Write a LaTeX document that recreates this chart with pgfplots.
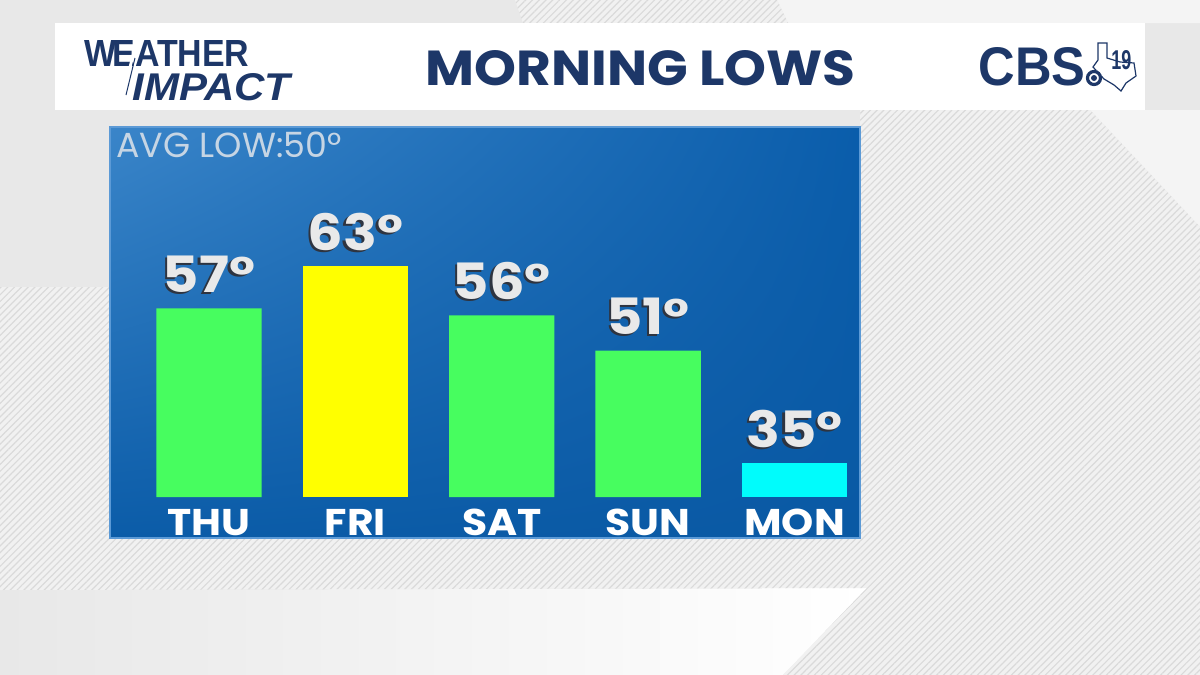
\documentclass[border=0pt]{standalone}
\usepackage{pgfplots}
\pgfplotsset{compat=1.18}
\usepackage{pgfplotstable}
\usepackage{fontspec}
\setmainfont{Poppins}
\newfontfamily\lib{Liberation Sans}
\usetikzlibrary{patterns.meta,shadings}
\definecolor{bg}{HTML}{E8E8E8}
\definecolor{bglight}{HTML}{F4F4F4}
\definecolor{stripe}{HTML}{DADADA}
\definecolor{stripebg}{HTML}{F1F1F1}
\definecolor{navy}{HTML}{1D3768}
\definecolor{barg}{HTML}{47FD5F}
\definecolor{bary}{HTML}{FFFF00}
\definecolor{barc}{HTML}{00FCFC}
\definecolor{lbl}{HTML}{E9E9E9}
\definecolor{shad}{HTML}{2E3440}
\definecolor{avg}{HTML}{C6D5E4}
\definecolor{pul}{HTML}{3A85C9}
\definecolor{pur}{HTML}{0A5DAB}
\definecolor{pll}{HTML}{0B5CA8}
\definecolor{plr}{HTML}{0A59A4}
\definecolor{pborder}{HTML}{5C9AD6}

\pgfplotstableread{
x v
0 57
1 63
2 56
3 51
4 35
}\lows

\newcommand{\dl}[1]{\scalebox{1.1}[1]{#1}}

\begin{document}
\begin{tikzpicture}[x=0.5pt,y=-0.5pt]
% background
\fill[bg] (0,0) rectangle (1200,675);
\shade[left color=bg, right color=white] (0,590) -- (867,588) -- (783,675) -- (0,675) -- cycle;
\fill[bglight] (777,0) -- (1200,0) -- (1200,23) -- (788,23) -- cycle;
\fill[bglight] (1090,110) -- (1200,110) -- (1200,227) -- cycle;
% striped regions
\fill[stripebg] (515,0) -- (777,0) -- (788,23) -- (523,23) -- cycle;
\fill[pattern={Lines[angle=45,distance=2.4pt,line width=0.6pt]}, pattern color=stripe]
  (515,0) -- (777,0) -- (788,23) -- (523,23) -- cycle;
\fill[stripebg] (0,287) -- (860,287) -- (860,110) -- (1090,110) -- (1200,227) -- (1200,675) -- (783,675) -- (867,588) -- (0,590) -- cycle;
\fill[pattern={Lines[angle=45,distance=2.4pt,line width=0.6pt]}, pattern color=stripe]
  (0,287) -- (860,287) -- (860,110) -- (1090,110) -- (1200,227) -- (1200,675) -- (783,675) -- (867,588) -- (0,590) -- cycle;
% header
\fill[white] (55,23) rectangle (1145,110);
\node[anchor=base west, inner sep=0pt, text=navy] at (84,66) {\resizebox{82.5pt}{13pt}{\lib\bfseries W\kern-0.12em EATHER}};
\node[anchor=base west, inner sep=0pt, text=navy] at (132,100) {\resizebox{79pt}{13.5pt}{\lib\bfseries\itshape IMPACT}};
\draw[white, line width=1.4pt] (139,33) -- (121,101);
\draw[navy, line width=0.5pt] (135,58) -- (126,95);
\node[anchor=base west, inner sep=0pt, text=navy] at (425,85) {\resizebox{215pt}{17.5pt}{\bfseries MORNING LOWS}};
\node[anchor=base west, inner sep=0pt, text=navy] at (978,85) {\resizebox{53.5pt}{19pt}{\lib\bfseries CBS}};
\draw[navy, line width=0.6pt] (1098,43) -- (1107,43) -- (1107,58) -- (1120,62) -- (1134,63) -- (1136,76) -- (1126,83) -- (1121,91) -- (1114,85) -- (1104,79) -- (1093,67) -- (1098,60) -- cycle;
\fill[white] (1094,78) circle (8);
\draw[navy, line width=1.6pt] (1094,78) circle (6.5);
\fill[navy] (1094,78) circle (3);
\node[anchor=base west, inner sep=0pt, text=navy] at (1111,69) {\resizebox{10pt}{9.5pt}{\lib\bfseries 19}};
% panel
\shade[upper left=pul, upper right=pur, lower left=pll, lower right=plr] (110,127) rectangle (860,538);
\draw[pborder, line width=0.6pt] (110,127) rectangle (860,538);
\node[anchor=base west, inner sep=0pt, text=avg, font=\fontsize{17.4}{17.4}\selectfont] at (116,157) {AVG LOW:50°};

\begin{axis}[
  at={(55pt,-248.5pt)}, anchor=south west,
  width=375pt, height=185pt, scale only axis,
  xmin=-0.676, xmax=4.447, ymin=30.2, ymax=82.76,
  ybar, bar width=0.72,
  axis line style={draw=none}, tick style={draw=none},
  ytick=\empty,
  xtick={0,1,2,3,4},
  xticklabels={\dl{THU},\dl{FRI},\dl{SAT},\dl{SUN},\dl{MON}},
  xticklabel style={font=\bfseries\fontsize{18.6}{18.6}\selectfont, text=white, anchor=north, inner sep=0pt, yshift=-1.5pt},
  /pgf/number format/assume math mode=true,
  nodes near coords={\scalebox{1.12}[1]{\pgfmathprintnumber{\pgfplotspointmeta}°}},
  nodes near coords style={font=\bfseries\fontsize{25}{25}\selectfont, anchor=base, inner sep=0pt, text=lbl, yshift=8pt},
]
\addplot[draw=none, fill=none, bar shift=0pt,
  nodes near coords style={text=shad, xshift=-1.2pt, yshift=-1pt}] table[x=x, y=v] {\lows};
\addplot[draw=none, fill=barg, bar shift=0pt] coordinates {(0,57) (2,56) (3,51)};
\addplot[draw=none, fill=bary, bar shift=0pt] coordinates {(1,63)};
\addplot[draw=none, fill=barc, bar shift=0pt] coordinates {(4,35)};
\end{axis}
\end{tikzpicture}
\end{document}
